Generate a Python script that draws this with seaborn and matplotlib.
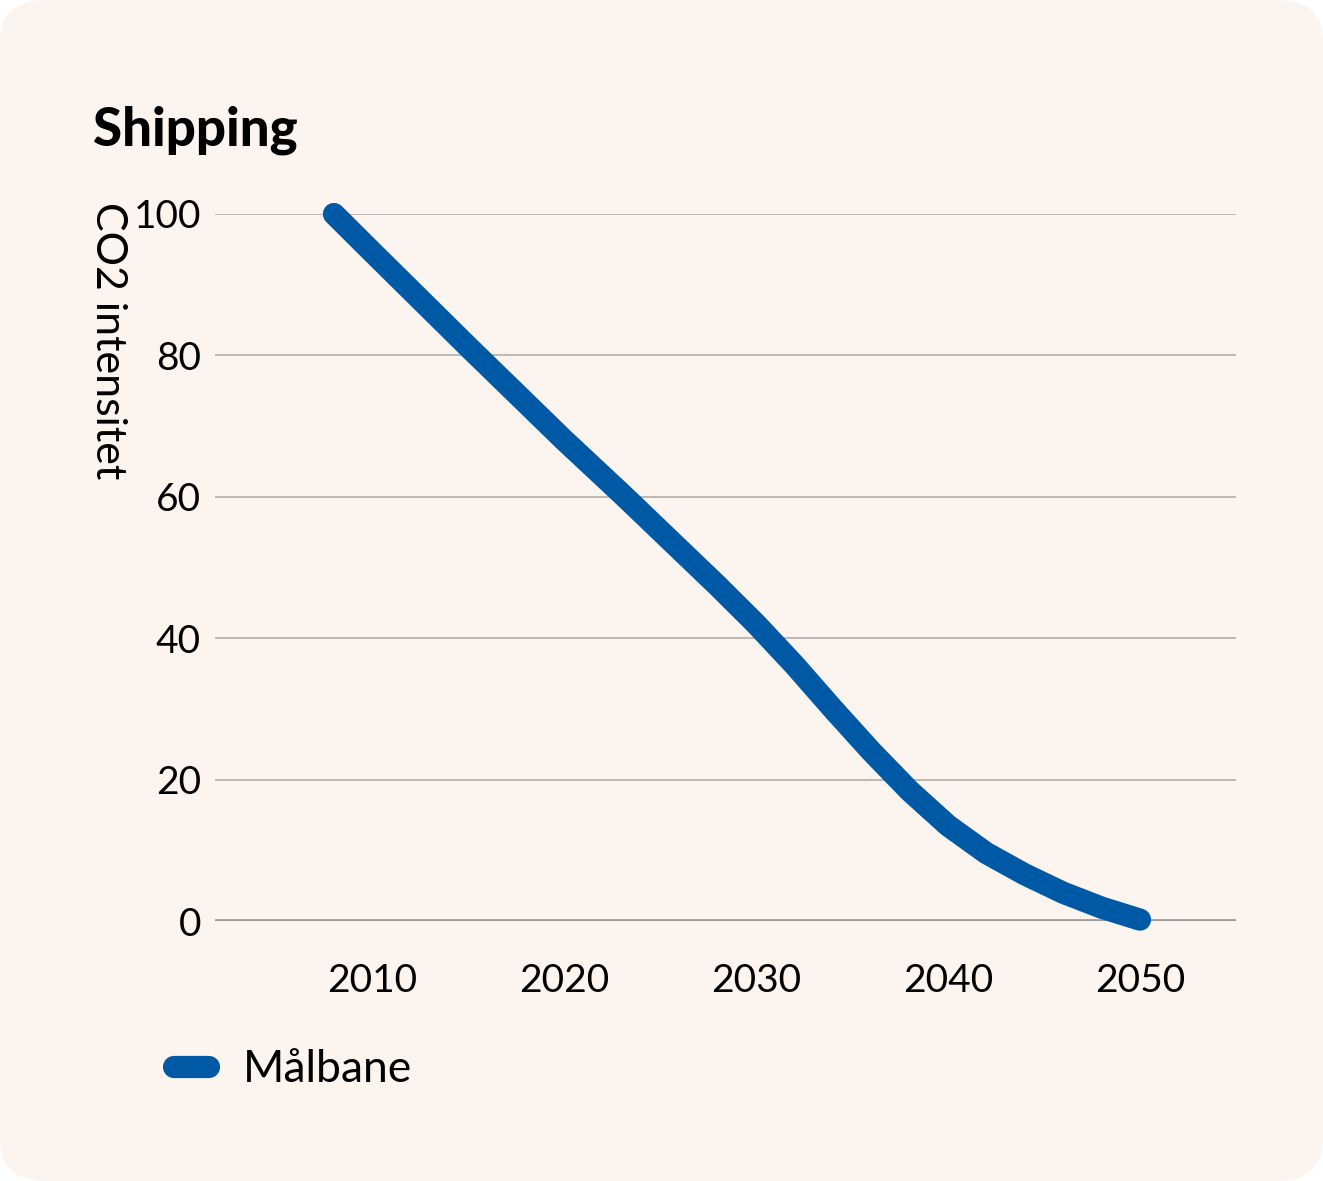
import pandas as pd
import numpy as np
import seaborn as sns
import matplotlib.pyplot as plt
from matplotlib.patches import FancyBboxPatch

# data
years = [2008, 2010, 2015, 2020, 2023, 2025, 2028, 2030, 2032, 2034, 2036,
         2038, 2040, 2042, 2044, 2046, 2048, 2050]
intensity = [100, 94.6, 81.2, 68, 60.4, 55.2, 47.4, 42, 36.2, 30, 24,
             18.4, 13.5, 9.6, 6.6, 4.0, 1.9, 0.2]
series_name = "Målbane"
y_ticks = [0, 20, 40, 60, 80, 100]
x_ticks = [2010, 2020, 2030, 2040, 2050]

df = pd.DataFrame({"year": years, "value": intensity, "series": series_name})

bg = "#FBF4EF"
blue = "#0059A5"

sns.set_theme(style="white")
plt.rcParams["font.family"] = ["Lato", "DejaVu Sans"]
plt.rcParams["text.color"] = "black"

fig = plt.figure(figsize=(13.23, 11.81), dpi=100)
fig.patch.set_facecolor("white")

# rounded card background
card = FancyBboxPatch((0.0, 0.0), 1.0, 1.0, boxstyle="round,pad=0,rounding_size=0.035",
                      transform=fig.transFigure, facecolor=bg, edgecolor="none", zorder=-10)
fig.patches.append(card)

ax = fig.add_axes([0.1625, 0.2201, 0.7717, 0.5987])
ax.patch.set_alpha(0)

sns.lineplot(data=df, x="year", y="value", hue="series", palette=[blue],
             linewidth=16, ax=ax, solid_capstyle="round", solid_joinstyle="round",
             zorder=5, clip_on=False)

ax.set_xlim(2001.8, 2055)
ax.set_ylim(0, 100)
ax.set_xticks(x_ticks)
ax.set_yticks(y_ticks)
ax.set_xticklabels([str(x) for x in x_ticks], fontsize=28)
ax.set_yticklabels([str(y) for y in y_ticks], fontsize=28)
ax.tick_params(axis="both", length=0, colors="black")
ax.tick_params(axis="y", pad=10)
ax.tick_params(axis="x", pad=30)

for y in y_ticks:
    if y == 0:
        ax.axhline(y, color="#9c9893", linewidth=2.6, zorder=1)
    else:
        ax.axhline(y, color="#b3aeaa", linewidth=1.2, zorder=1)

for s in ax.spines.values():
    s.set_visible(False)
ax.set_xlabel("")
ax.set_ylabel("")

fig.text(0.070, 0.8772, "Shipping", fontsize=38, fontweight="black", ha="left",
         va="baseline", color="black")
fig.text(0.082, 0.829, "CO2 intensitet", fontsize=31, rotation=-90, ha="center",
         va="top", color="black")

ax.legend_.remove()
leg = fig.legend(loc="center left", bbox_to_anchor=(0.101, 0.094), frameon=False,
                 fontsize=32, handlelength=0.8, handletextpad=0.75)
for h in leg.get_lines():
    h.set_linewidth(16)
    h.set_solid_capstyle("round")
for t in leg.get_texts():
    t.set_color("black")

fig.savefig("out.png", dpi=100, facecolor="white")
